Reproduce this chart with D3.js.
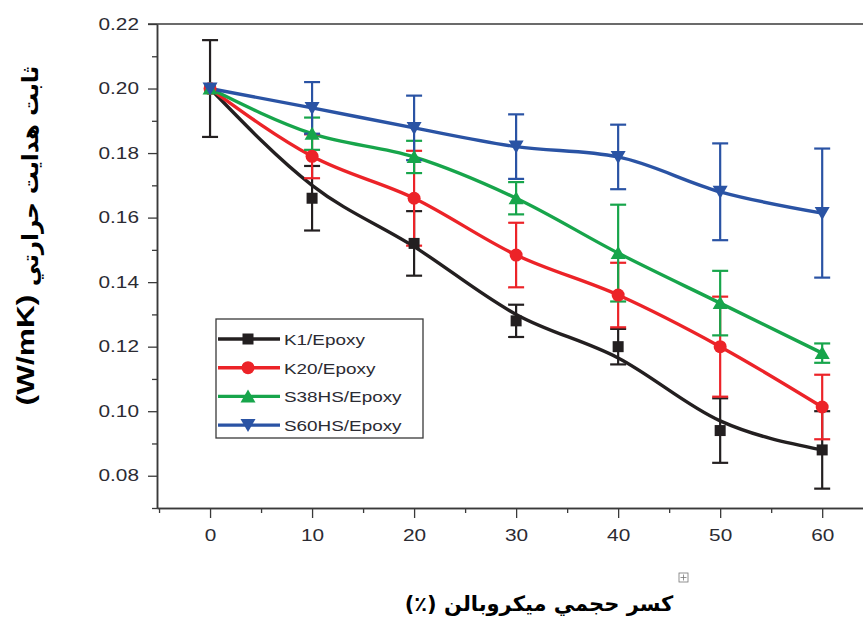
<!DOCTYPE html>
<html>
<head>
<meta charset="utf-8">
<script src="https://cdn.jsdelivr.net/npm/d3@7"></script>
<style>
  html, body { margin: 0; padding: 0; background: #fff; }
  svg { display: block; }
  .tick text { font-family: "Liberation Sans", Arial, sans-serif; font-size: 16px; fill: #2b2b33; }
</style>
</head>
<body>
<svg id="chart" width="863" height="619"></svg>
<script>
// Volume fraction of microballoons (%)
const fractions = [0, 10, 20, 30, 40, 50, 60];

// Measured thermal conductivity (W/mK) and error half-widths
const k1Values   = [0.200, 0.166, 0.152, 0.128, 0.120, 0.094, 0.088];
const k1Errors   = [0.015, 0.010, 0.010, 0.005, 0.0055, 0.010, 0.012];
const k1Fit      = [0.200, 0.170, 0.151, 0.130, 0.1165, 0.097, 0.088];

const k20Values  = [0.200, 0.179, 0.166, 0.1484, 0.136, 0.120, 0.1013];
const k20Errors  = [0.000, 0.0068, 0.0147, 0.010, 0.010, 0.0155, 0.010];

const s38Values  = [0.200, 0.186, 0.1788, 0.166, 0.149, 0.1335, 0.118];
const s38Errors  = [0.000, 0.005, 0.005, 0.005, 0.015, 0.010, 0.003];

const s60Values  = [0.200, 0.194, 0.1878, 0.182, 0.1788, 0.168, 0.1614];
const s60Errors  = [0.000, 0.008, 0.010, 0.010, 0.010, 0.015, 0.020];

const seriesNames = ["K1/Epoxy", "K20/Epoxy", "S38HS/Epoxy", "S60HS/Epoxy"];
const xTickLabels = ["0", "10", "20", "30", "40", "50", "60"];
const yTickLabels = ["0.08", "0.10", "0.12", "0.14", "0.16", "0.18", "0.20", "0.22"];

const yTitleText = "ثابت هدایت حرارتي";
const yTitleUnit = "(W/mK)";
const xTitle = "کسر حجمي ميکروبالن (٪)";

const series = [
  { name: seriesNames[0], values: k1Values,  errors: k1Errors,  line: k1Fit,     color: "#231f20", shape: "square" },
  { name: seriesNames[1], values: k20Values, errors: k20Errors, line: k20Values, color: "#ec2328", shape: "circle" },
  { name: seriesNames[2], values: s38Values, errors: s38Errors, line: s38Values, color: "#17a54b", shape: "up" },
  { name: seriesNames[3], values: s60Values, errors: s60Errors, line: s60Values, color: "#2a53a4", shape: "down" }
];

const svg = d3.select("#chart");

const x = d3.scaleLinear().domain([-5.2, 64]).range([157, 863]);
const y = d3.scaleLinear().domain([0.07, 0.22]).range([508, 24]);

const axisColor = "#3a3a3a";
const wide = 1.3; // horizontal stretch used for the sans-serif labels

// Y axis: major ticks with labels, minor ticks between them
const yMajor = yTickLabels.map(Number);
const yMinor = d3.range(0.07, 0.2201, 0.02).map(v => +v.toFixed(2));

const yAxisG = svg.append("g").attr("transform", `translate(${x.range()[0]},0)`);
yAxisG.call(d3.axisLeft(y).tickValues(yMajor).tickSize(9).tickPadding(9)
  .tickFormat((d, i) => yTickLabels[i]).tickSizeOuter(0));
yAxisG.selectAll(".tick text")
  .attr("x", -18 / wide)
  .attr("transform", `scale(${wide},1)`);
yAxisG.append("g").call(d3.axisLeft(y).tickValues(yMinor).tickSize(5).tickFormat("").tickSizeOuter(0));
yAxisG.selectAll("path.domain").attr("stroke", axisColor).attr("stroke-width", 1.5);
yAxisG.selectAll("line").attr("stroke", axisColor).attr("stroke-width", 1.3);

// X axis: labelled decades, minor ticks at the fives
const xMajor = xTickLabels.map(Number);
const xMinor = [-5, 5, 15, 25, 35, 45, 55];

const xAxisG = svg.append("g").attr("transform", `translate(0,${y.range()[0]})`);
xAxisG.call(d3.axisBottom(x).tickValues(xMajor).tickSize(10).tickPadding(12)
  .tickFormat((d, i) => xTickLabels[i]).tickSizeOuter(0));
xAxisG.selectAll(".tick text").attr("transform", `scale(${wide},1)`);
xAxisG.append("g").call(d3.axisBottom(x).tickValues(xMinor).tickSize(5).tickFormat("").tickSizeOuter(0));
xAxisG.selectAll("path.domain").attr("stroke", axisColor).attr("stroke-width", 1.5);
xAxisG.selectAll("line").attr("stroke", axisColor).attr("stroke-width", 1.3);

// Top frame line
svg.append("line")
  .attr("x1", x.range()[0] - 9).attr("x2", x.range()[1])
  .attr("y1", y(0.22)).attr("y2", y(0.22))
  .attr("stroke", axisColor).attr("stroke-width", 1.5);

// Curves
const lineGen = d3.line()
  .x((d, i) => x(fractions[i]))
  .y(d => y(d))
  .curve(d3.curveMonotoneX);

const plot = svg.append("g");

series.forEach(s => {
  plot.append("path")
    .attr("d", lineGen(s.line))
    .attr("fill", "none")
    .attr("stroke", s.color)
    .attr("stroke-width", 3.4)
    .attr("stroke-linejoin", "round");
});

// Error bars
const capHalf = 8;
series.forEach(s => {
  const g = plot.append("g").attr("stroke", s.color).attr("stroke-width", 2.2);
  s.values.forEach((v, i) => {
    const e = s.errors[i];
    if (e <= 0) return;
    const cx = x(fractions[i]);
    const top = y(v + e), bot = y(v - e);
    g.append("line").attr("x1", cx).attr("x2", cx).attr("y1", top).attr("y2", bot);
    g.append("line").attr("x1", cx - capHalf).attr("x2", cx + capHalf).attr("y1", top).attr("y2", top);
    g.append("line").attr("x1", cx - capHalf).attr("x2", cx + capHalf).attr("y1", bot).attr("y2", bot);
  });
});

// Marker drawing
function drawMarker(g, shape, cx, cy, color) {
  if (shape === "square") {
    g.append("rect").attr("x", cx - 5.5).attr("y", cy - 5.5).attr("width", 11).attr("height", 11).attr("fill", color);
  } else if (shape === "circle") {
    g.append("circle").attr("cx", cx).attr("cy", cy).attr("r", 6.5).attr("fill", color);
  } else if (shape === "up") {
    g.append("path").attr("d", `M${cx},${cy - 7} L${cx + 7.5},${cy + 6} L${cx - 7.5},${cy + 6} Z`).attr("fill", color);
  } else {
    g.append("path").attr("d", `M${cx - 7.5},${cy - 6} L${cx + 7.5},${cy - 6} L${cx},${cy + 7} Z`).attr("fill", color);
  }
}

series.forEach(s => {
  const g = plot.append("g");
  s.values.forEach((v, i) => drawMarker(g, s.shape, x(fractions[i]), y(v), s.color));
});

// Legend
const legend = svg.append("g");
legend.append("rect")
  .attr("x", 216).attr("y", 319).attr("width", 207).attr("height", 119)
  .attr("fill", "#fff").attr("stroke", "#3a3a3a").attr("stroke-width", 1.3);
series.forEach((s, i) => {
  const ly = 339 + i * 28.7;
  legend.append("line").attr("x1", 218).attr("x2", 280).attr("y1", ly).attr("y2", ly)
    .attr("stroke", s.color).attr("stroke-width", 3.4);
  drawMarker(legend, s.shape, 248, ly, s.color);
  legend.append("text")
    .attr("transform", `translate(284,${ly + 6}) scale(1.22,1)`)
    .attr("font-family", "Liberation Sans, Arial, sans-serif").attr("font-size", 15.5)
    .attr("fill", "#2b2b33").text(s.name);
});

// Axis titles
const yTitle = svg.append("g").attr("font-weight", "bold").attr("fill", "#000");
yTitle.append("text")
  .attr("transform", "translate(38,176) rotate(-90)")
  .attr("text-anchor", "middle")
  .attr("direction", "rtl")
  .attr("font-family", "DejaVu Sans, sans-serif")
  .attr("font-size", 23)
  .text(yTitleText);
yTitle.append("text")
  .attr("transform", `translate(34,350) rotate(-90) scale(1.32,1)`)
  .attr("text-anchor", "middle")
  .attr("font-family", "Liberation Sans, Arial, sans-serif")
  .attr("font-size", 24)
  .text(yTitleUnit);

svg.append("text")
  .attr("x", 539).attr("y", 611)
  .attr("text-anchor", "middle")
  .attr("direction", "rtl")
  .attr("font-family", "DejaVu Sans, sans-serif")
  .attr("font-weight", "bold").attr("font-size", 21)
  .attr("fill", "#000")
  .text(xTitle);

// Small object handle glyph beside the x title
const handle = svg.append("g").attr("transform", "translate(679,573)").attr("stroke", "#777").attr("fill", "none");
handle.append("rect").attr("width", 9).attr("height", 9).attr("stroke-width", 0.8);
handle.append("line").attr("x1", 4.5).attr("x2", 4.5).attr("y1", 1.5).attr("y2", 7.5).attr("stroke-width", 0.8);
handle.append("line").attr("x1", 1.5).attr("x2", 7.5).attr("y1", 4.5).attr("y2", 4.5).attr("stroke-width", 0.8);
</script>
</body>
</html>
